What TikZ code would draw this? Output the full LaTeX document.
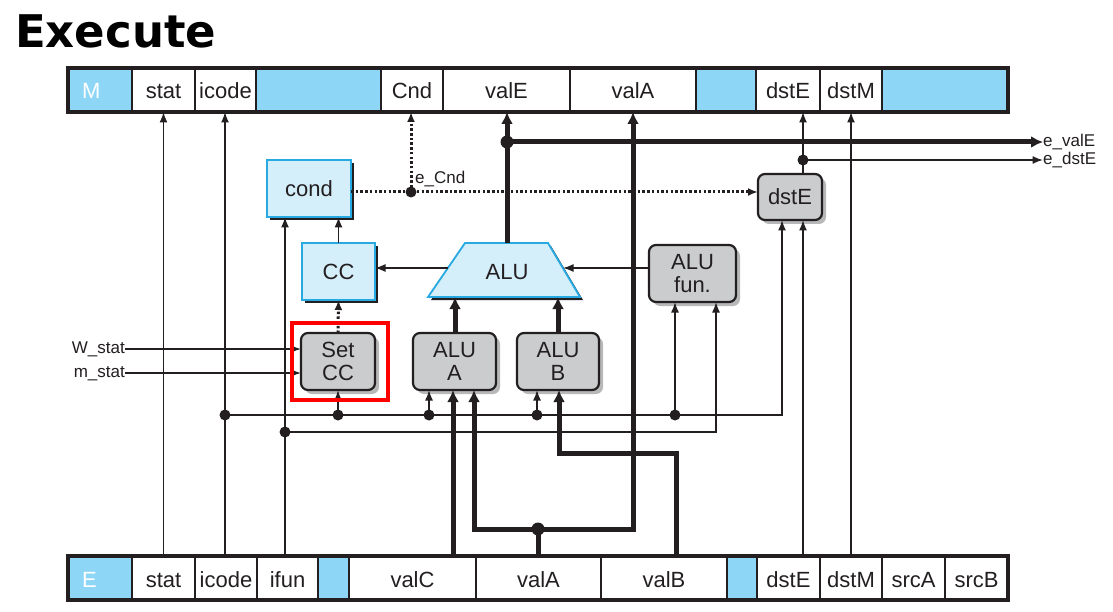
\documentclass[tikz,border=0pt]{standalone}
\usepackage{fontspec}
\setmainfont{Liberation Sans}
\newfontfamily\titlefont{DejaVu Sans}
\usetikzlibrary{arrows.meta,shadows}

\definecolor{regblue}{HTML}{8ED6F5}
\definecolor{ctlblue}{HTML}{D4EEFA}
\definecolor{ctledge}{HTML}{27A9E1}
\definecolor{ctlgrey}{HTML}{CBCCCE}
\definecolor{ink}{HTML}{231F20}

\tikzset{
  cell/.style={draw=ink, line width=2.4pt, fill=white, inner sep=0pt, outer sep=0pt,
    text=ink, font=\fontsize{22}{24}\selectfont, text height=18pt, text depth=0pt},
  bluecell/.style={cell, fill=regblue, text=white},
  leadcell/.style={bluecell, text width=36pt, align=left},
  barframe/.style={draw=ink, line width=3.5pt},
  ctlbox/.style={draw=ctledge, line width=1.8pt, fill=ctlblue, inner sep=0pt, outer sep=0pt,
    text=ink, font=\fontsize{22}{24}\selectfont,
    drop shadow={shadow xshift=3pt, shadow yshift=-3pt, fill=ink, opacity=1}},
  logicbox/.style={draw=ink, line width=2.2pt, fill=ctlgrey, rounded corners=7pt,
    inner sep=0pt, outer sep=0pt, align=center, text=ink,
    font=\fontsize{22}{23}\selectfont,
    drop shadow={shadow xshift=4pt, shadow yshift=-4pt, fill=black!28, opacity=1}},
  alushape/.style={draw=ctledge, line width=1.8pt, fill=ctlblue,
    drop shadow={shadow xshift=3pt, shadow yshift=-3pt, fill=ink, opacity=1}},
  sigtext/.style={inner sep=0pt, text=ink, font=\fontsize{17}{19}\selectfont,
    text height=12pt, text depth=3pt},
  thinarrow/.style={draw=ink, line width=1.6pt, -{Latex[length=10.5pt, width=8pt]}},
  thickline/.style={draw=ink, line width=5pt},
  thickarrow/.style={thickline, -{Latex[length=12pt, width=12pt]}},
  dotarrow/.style={draw=ink, line width=3pt, dash pattern=on 2.5pt off 2.2pt,
    -{Latex[length=10pt, width=8pt]}},
  junction/.style={circle, fill=ink, inner sep=0pt, minimum size=11pt},
  bigjunction/.style={junction, minimum size=13pt},
  highlight/.style={draw=red, line width=3.5pt, inner sep=0pt}
}

% one field of a pipeline register: name, left x, right x, top y, text, style
\newcommand\regcell[6]{%
  \node[#6, minimum width={(#3-#2)*1pt}, minimum height=44pt] (#1)
    at ({(#2+#3)/2},{#4+22}) {#5};}

\begin{document}
\begin{tikzpicture}[x=1pt, y=-1pt]
\fill[white] (0,0) rectangle (1113,612);
\useasboundingbox (0,0) rectangle (1113,612);

\node[anchor=base west, inner sep=0pt, text=black,
  font=\titlefont\bfseries\fontsize{45}{50}\selectfont] (title) at (15,48) {Execute};

% ---- M register (top) ----
\regcell{mM}{68}{132}{68}{M}{leadcell}
\regcell{mstat}{132}{195}{68}{stat}{cell}
\regcell{micode}{195}{256}{68}{icode}{cell}
\regcell{mgapA}{256}{381}{68}{}{bluecell}
\regcell{mCnd}{381}{443}{68}{Cnd}{cell}
\regcell{mvalE}{443}{570}{68}{valE}{cell}
\regcell{mvalA}{570}{696}{68}{valA}{cell}
\regcell{mgapB}{696}{756}{68}{}{bluecell}
\regcell{mdstE}{756}{820}{68}{dstE}{cell}
\regcell{mdstM}{820}{882}{68}{dstM}{cell}
\regcell{mgapC}{882}{1008}{68}{}{bluecell}
\draw[barframe] (mM.north west) rectangle (mgapC.south east);

% ---- E register (bottom) ----
\regcell{eE}{68}{132}{556}{E}{leadcell}
\regcell{estat}{132}{195}{556}{stat}{cell}
\regcell{eicode}{195}{257}{556}{icode}{cell}
\regcell{eifun}{257}{318}{556}{ifun}{cell}
\regcell{egapA}{318}{349}{556}{}{bluecell}
\regcell{evalC}{349}{476}{556}{valC}{cell}
\regcell{evalA}{476}{601}{556}{valA}{cell}
\regcell{evalB}{601}{727}{556}{valB}{cell}
\regcell{egapB}{727}{757}{556}{}{bluecell}
\regcell{edstE}{757}{820}{556}{dstE}{cell}
\regcell{edstM}{820}{882}{556}{dstM}{cell}
\regcell{esrcA}{882}{945}{556}{srcA}{cell}
\regcell{esrcB}{945}{1008}{556}{srcB}{cell}
\draw[barframe] (eE.north west) rectangle (esrcB.south east);

% ---- ALU trapezoid ----
\coordinate (aluBL) at (428,297);
\coordinate (aluTL) at (465,243);
\coordinate (aluTR) at (548,243);
\coordinate (aluBR) at (580,297);
\draw[alushape] (aluBL) -- (aluTL) -- (aluTR) -- (aluBR) -- cycle;
\node[inner sep=0pt, text=ink, font=\fontsize{22}{24}\selectfont] (alu) at (507,272) {ALU};
\coordinate (aluLeft) at (448,268);
\coordinate (aluRight) at (563,268);
\coordinate (aluTop) at (507,243);
\coordinate (aluInA) at (455,297);
\coordinate (aluInB) at (558,297);

% ---- control and logic blocks ----
\node[ctlbox, minimum width=84pt, minimum height=57pt] (cond) at (309,188.5) {cond};
\node[ctlbox, minimum width=73pt, minimum height=57pt] (cc) at (338.5,271.5) {CC};
\node[logicbox, minimum width=74pt, minimum height=57pt] (setcc) at (338,361.5) {Set\\CC};
\node[logicbox, minimum width=83pt, minimum height=57pt] (alua) at (454.5,361.5) {ALU\\A};
\node[logicbox, minimum width=82pt, minimum height=57pt] (alub) at (558,361.5) {ALU\\B};
\node[logicbox, minimum width=87pt, minimum height=57pt] (alufun) at (692.5,273.5) {ALU\\fun.};
\node[logicbox, minimum width=64pt, minimum height=46pt] (dstebox) at (790,197) {dstE};

% ---- signal labels ----
\node[sigtext, anchor=east] (lblW) at (125,349) {W\_stat};
\node[sigtext, anchor=east] (lblm) at (125,373) {m\_stat};
\node[sigtext, anchor=west] (lblvalE) at (1043,142) {e\_valE};
\node[sigtext, anchor=west] (lbldstE) at (1043,160) {e\_dstE};
\node[sigtext, anchor=base west] (lblCnd) at (415,184) {e\_Cnd};

% ---- junction points ----
\node[junction] (jIcode) at (225,415) {};
\node[junction] (jSet) at (338,415) {};
\node[junction] (jAluA) at (429,415) {};
\node[junction] (jAluB) at (537,415) {};
\node[junction] (jFun) at (675,415) {};
\coordinate (cDstTurn) at (782,415);
\node[junction] (jIfun) at (285,432) {};
\coordinate (cFunTurn) at (716,432);
\node[bigjunction] (jValA) at (538,529) {};
\coordinate (xValC) at (453,470);
\coordinate (xValAL) at (474,470);
\coordinate (cValBcorner) at (676,453);
\coordinate (cValBturn) at (559,453);
\node[bigjunction] (jAluOut) at (507,142) {};
\node[junction] (jCnd) at (411,192) {};
\node[junction] (jDstE) at (803,160) {};

% ---- thin control wires ----
\draw[thinarrow] (estat.north) -- (mstat.south);
\draw[thinarrow] (eicode.north -| jIcode) -- (micode.south -| jIcode);
\draw[thinarrow] (eifun.north -| jIfun) -- (cond.south -| jIfun);
\draw[thinarrow] (jIcode.center) -| (dstebox.south -| cDstTurn);
\draw[thinarrow] (jSet.center) -- (setcc.south);
\draw[thinarrow] (jAluA.center) -- (alua.south -| jAluA);
\draw[thinarrow] (jAluB.center) -- (alub.south -| jAluB);
\draw[thinarrow] (jFun.center) -- (alufun.south -| jFun);
\draw[thinarrow] (jIfun.center) -| (alufun.south -| cFunTurn);
\draw[thinarrow] (edstE.north -| jDstE) -- (dstebox.south -| jDstE);
\draw[thinarrow] (edstM.north) -- (mdstM.south);
\draw[thinarrow] (dstebox.north -| jDstE) -- (mdstE.south -| jDstE);
\draw[thinarrow] (jDstE.center) -- (lbldstE.west);
\draw[thinarrow] (aluLeft) -- (cc.east |- aluLeft);
\draw[thinarrow] (alufun.west |- aluRight) -- (aluRight);
\draw[thinarrow] (cc.north) -- (cond.south -| cc.north);
\draw[thinarrow] (lblW.east) -- (setcc.west |- lblW.east);
\draw[thinarrow] (lblm.east) -- (setcc.west |- lblm.east);

% ---- condition signals ----
\draw[dotarrow] (setcc.north) -- (cc.south);
\draw[dotarrow] (cond.east |- jCnd) -- (dstebox.west |- jCnd);
\draw[dotarrow] (jCnd.center) -- (mCnd.south -| jCnd);

% ---- data paths ----
\draw[thickarrow] (evalC.north -| xValC) -- (alua.south -| xValC);
\draw[thickline] (evalA.north -| jValA) -- (jValA.center);
\draw[thickarrow] (jValA.center) -| (alua.south -| xValAL);
\draw[thickarrow] (jValA.center) -| (mvalA.south);
\draw[thickarrow] (evalB.north -| cValBcorner) |- (cValBturn) -- (alub.south -| cValBturn);
\draw[thickarrow] (alua.north -| aluInA) -- (aluInA);
\draw[thickarrow] (alub.north -| aluInB) -- (aluInB);
\draw[thickarrow] (aluTop) -- (mvalE.south -| aluTop);
\draw[thickarrow] (jAluOut.center) -- (lblvalE.west);

% ---- marked block ----
\node[highlight, minimum width=96pt, minimum height=77pt] (mark) at (340,361.5) {};
\end{tikzpicture}
\end{document}
